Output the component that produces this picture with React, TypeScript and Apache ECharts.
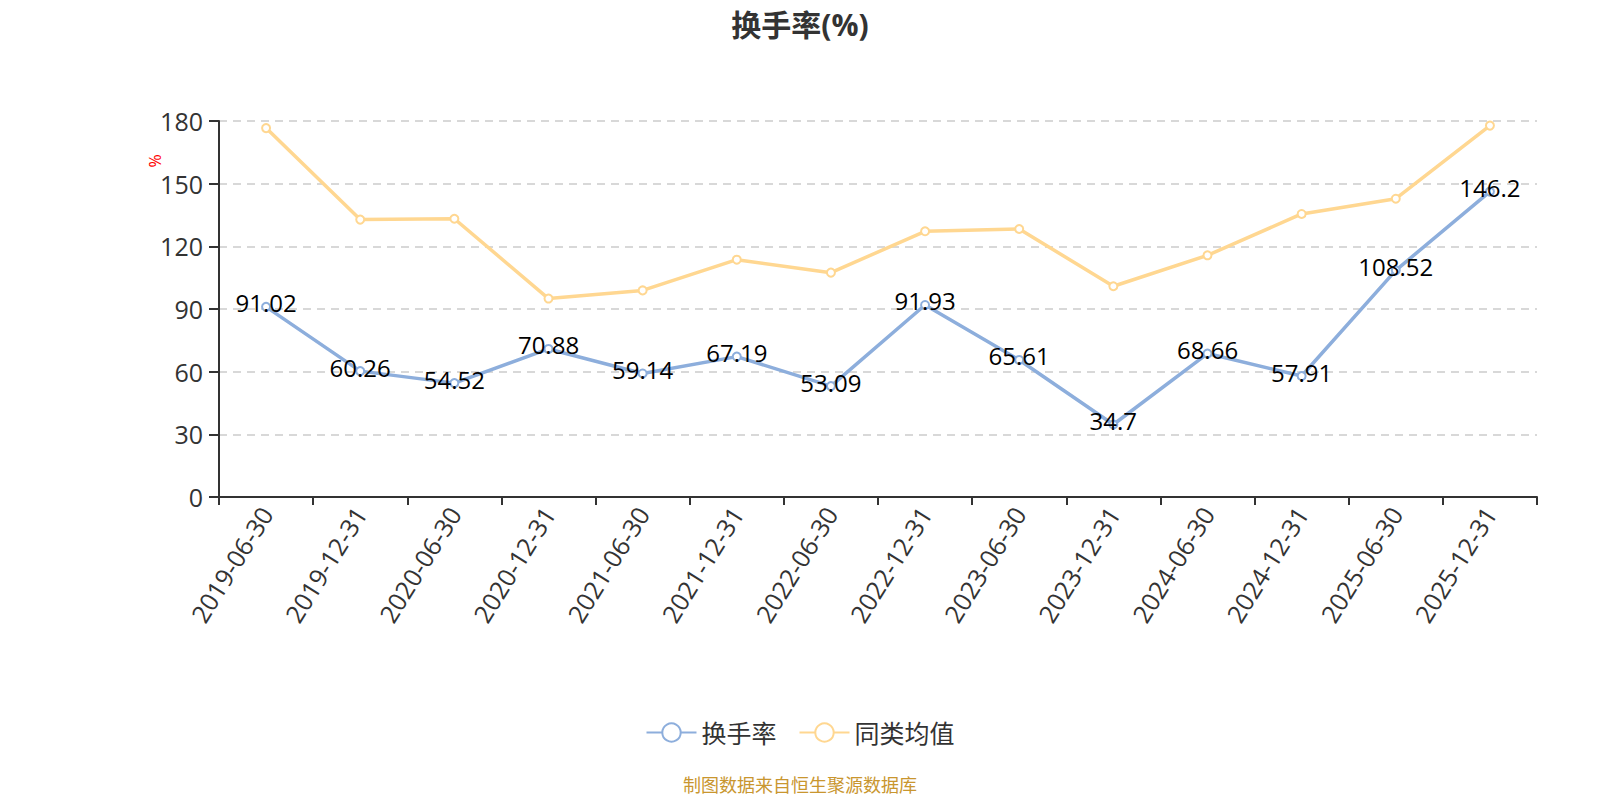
import React, { useEffect, useRef } from "react";
import * as echarts from "echarts";

const categories = [
  "2019-06-30", "2019-12-31", "2020-06-30", "2020-12-31", "2021-06-30",
  "2021-12-31", "2022-06-30", "2022-12-31", "2023-06-30", "2023-12-31",
  "2024-06-30", "2024-12-31", "2025-06-30", "2025-12-31",
];
const turnover = [91.02, 60.26, 54.52, 70.88, 59.14, 67.19, 53.09, 91.93, 65.61, 34.7, 68.66, 57.91, 108.52, 146.2];
const peerAverage = [176.6, 132.8, 133.2, 95.0, 98.9, 113.6, 107.4, 127.2, 128.3, 100.9, 115.7, 135.5, 142.8, 177.8];
const yTicks = { min: 0, max: 180, interval: 30 };

const FONT = "'Open Sans', 'Noto Sans CJK SC', sans-serif";
const BLUE = "#8DAEDC";
const YELLOW = "#FFD791";

export default function App() {
  const ref = useRef<HTMLDivElement>(null);

  useEffect(() => {
    if (!ref.current) return;
    const chart = echarts.init(ref.current, undefined, { renderer: "svg" });
    chart.setOption({
      animation: false,
      backgroundColor: "#fff",
      textStyle: { fontFamily: FONT },
      title: {
        text: "换手率(%)",
        left: "center",
        top: 4,
        textStyle: { fontFamily: FONT, fontSize: 30, fontWeight: "bold", color: "#333" },
      },
      grid: { left: 219, right: 63, top: 121, bottom: 303 },
      legend: {
        bottom: 50,
        left: "center",
        itemWidth: 50,
        itemHeight: 23,
        itemGap: 22,
        textStyle: { fontFamily: FONT, fontSize: 25, color: "#333" },
        data: ["换手率", "同类均值"],
      },
      xAxis: {
        type: "category",
        data: categories,
        boundaryGap: true,
        axisLine: { lineStyle: { color: "#333", width: 2 } },
        axisTick: { show: true, length: 8, lineStyle: { color: "#333", width: 2 }, alignWithLabel: false },
        axisLabel: { rotate: 58, margin: 12, fontSize: 25, color: "#333", fontFamily: FONT, interval: 0 },
      },
      yAxis: {
        type: "value",
        min: yTicks.min,
        max: yTicks.max,
        interval: yTicks.interval,
        axisLine: { show: true, lineStyle: { color: "#333", width: 2 } },
        axisTick: { show: true, length: 10, lineStyle: { color: "#333", width: 2 } },
        axisLabel: { fontSize: 25, color: "#333", margin: 16, fontFamily: FONT },
        splitLine: { lineStyle: { color: "#ccc", type: [8, 6], width: 1.5 } },
      },
      graphic: [
        {
          type: "text",
          x: 155,
          y: 161,
          rotation: Math.PI / 2,
          style: { text: "%", fill: "#ff0000", fontSize: 16, fontFamily: FONT, textAlign: "center", textVerticalAlign: "middle" },
        },
        {
          type: "text",
          left: "center",
          top: 776,
          style: { text: "制图数据来自恒生聚源数据库", fill: "#C9962F", fontSize: 18, fontFamily: FONT },
        },
      ],
      series: [
        {
          name: "换手率",
          type: "line",
          data: turnover,
          symbol: "emptyCircle",
          symbolSize: 8,
          itemStyle: { color: BLUE, borderWidth: 2 },
          lineStyle: { color: BLUE, width: 3.5 },
          label: {
            show: true,
            position: "inside",
            fontSize: 24,
            color: "#000",
            fontFamily: FONT,
            offset: [0, -4],
          },
          z: 3,
        },
        {
          name: "同类均值",
          type: "line",
          data: peerAverage,
          symbol: "emptyCircle",
          symbolSize: 8,
          itemStyle: { color: YELLOW, borderWidth: 2 },
          lineStyle: { color: YELLOW, width: 3.5 },
          label: { show: false },
          z: 2,
        },
      ],
    });
    return () => chart.dispose();
  }, []);

  return (
    <div
      ref={ref}
      style={{ position: "fixed", left: 0, top: 0, width: 1600, height: 800 }}
    />
  );
}
